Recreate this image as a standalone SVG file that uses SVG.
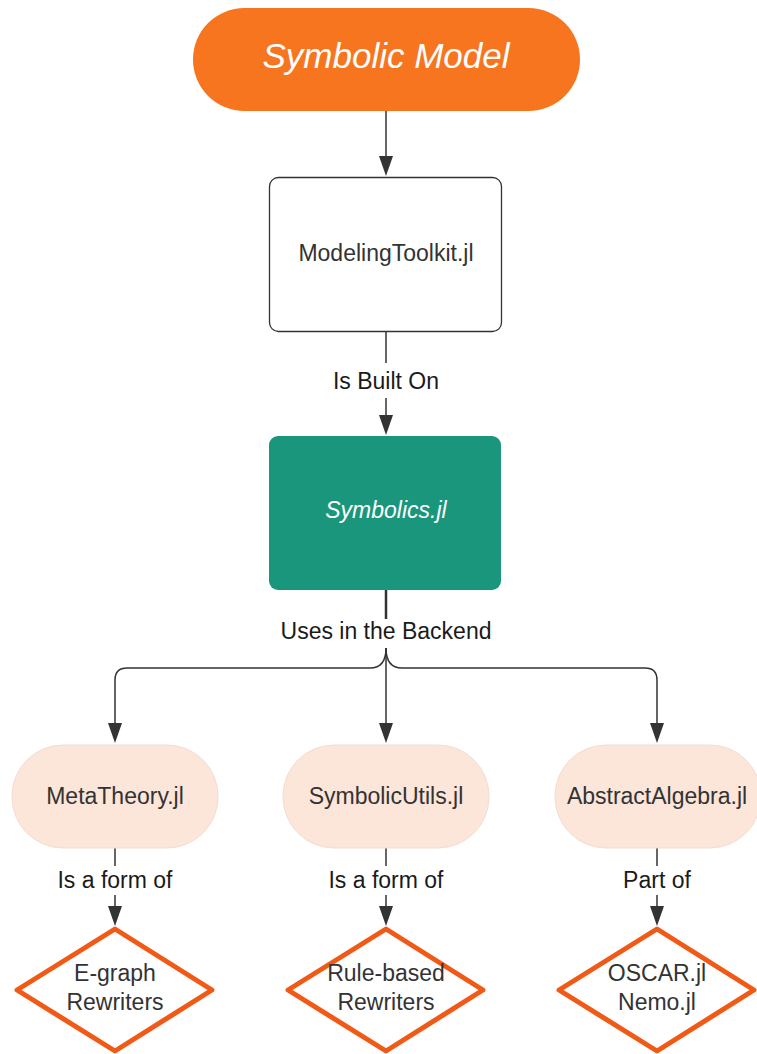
<svg xmlns="http://www.w3.org/2000/svg" width="757" height="1054" viewBox="0 0 757 1054">
<defs>
<style>
.t{font-family:"Liberation Sans",Arial,sans-serif;font-size:23px;fill:#333;text-anchor:middle}
.lbl{font-family:"Liberation Sans",Arial,sans-serif;font-size:23px;fill:#1a1a1a;text-anchor:middle}
.w{fill:#fff;font-style:italic}
.c{fill:none;stroke:#333;stroke-width:1.5}
.ah{fill:#333}
.peach{fill:#fce5d9;stroke:#f3ddd0;stroke-width:1}
.dia{fill:#fff;stroke:#f05a16;stroke-width:5;stroke-linejoin:round}
</style>
</defs>
<g id="connectors">
<line class="c" x1="386" y1="111" x2="386" y2="157"/>
<path class="ah" d="M379,156 L393,156 L386,176 Z"/>
<line class="c" x1="386" y1="331" x2="386" y2="363"/>
<line class="c" x1="386" y1="398" x2="386" y2="416"/>
<path class="ah" d="M379,415 L393,415 L386,435 Z"/>
<line class="c" x1="386" y1="590" x2="386" y2="619" style="stroke-width:2.5"/>
<path class="c" d="M386,648 L386,724"/>
<path class="ah" d="M379,723 L393,723 L386,743 Z"/>
<path class="c" d="M386,648 Q386,668 370,668 L127,668 Q115,668 115,680 L115,724"/>
<path class="ah" d="M108,723 L122,723 L115,743 Z"/>
<path class="c" d="M386,648 Q386,668 402,668 L645,668 Q657,668 657,680 L657,724"/>
<path class="ah" d="M650,723 L664,723 L657,743 Z"/>
<line class="c" x1="115" y1="848" x2="115" y2="866"/>
<line class="c" x1="115" y1="895" x2="115" y2="907"/>
<path class="ah" d="M108,906 L122,906 L115,926 Z"/>
<line class="c" x1="386" y1="848" x2="386" y2="866"/>
<line class="c" x1="386" y1="895" x2="386" y2="907"/>
<path class="ah" d="M379,906 L393,906 L386,926 Z"/>
<line class="c" x1="657" y1="848" x2="657" y2="866"/>
<line class="c" x1="657" y1="895" x2="657" y2="907"/>
<path class="ah" d="M650,906 L664,906 L657,926 Z"/>
<text class="lbl" x="386" y="389">Is Built On</text>
<text class="lbl" x="386" y="639">Uses in the Backend</text>
<text class="lbl" x="115" y="888">Is a form of</text>
<text class="lbl" x="386" y="888">Is a form of</text>
<text class="lbl" x="657" y="888">Part of</text>
</g>
<g id="symbolic-model">
<rect x="193" y="8" width="387" height="103" rx="51.5" fill="#f7751f"/>
<text class="t w" x="386" y="68" style="font-size:35px">Symbolic Model</text>
</g>
<g id="modelingtoolkit">
<rect x="269.5" y="177.5" width="232" height="154" rx="9" fill="#fff" stroke="#333" stroke-width="1.3"/>
<text class="t" x="386" y="261">ModelingToolkit.jl</text>
</g>
<g id="symbolics">
<rect x="269" y="436" width="232" height="154" rx="9" fill="#1a967d"/>
<text class="t w" x="386" y="518">Symbolics.jl</text>
</g>
<g id="metatheory">
<rect class="peach" x="12" y="745" width="206" height="103" rx="51"/>
<text class="t" x="115" y="804">MetaTheory.jl</text>
</g>
<g id="symbolicutils">
<rect class="peach" x="283" y="745" width="206" height="103" rx="51"/>
<text class="t" x="386" y="804">SymbolicUtils.jl</text>
</g>
<g id="abstractalgebra">
<rect class="peach" x="555" y="745" width="206" height="103" rx="51"/>
<text class="t" x="657" y="804">AbstractAlgebra.jl</text>
</g>
<g id="egraph">
<path class="dia" d="M115,929 L212,990 L115,1051 L17,990 Z"/>
<text class="t" x="115" y="981">E-graph</text>
<text class="t" x="115" y="1010">Rewriters</text>
</g>
<g id="rulebased">
<path class="dia" d="M386,929 L483,990 L386,1051 L288,990 Z"/>
<text class="t" x="386" y="981">Rule-based</text>
<text class="t" x="386" y="1010">Rewriters</text>
</g>
<g id="oscar">
<path class="dia" d="M657,929 L754,990 L657,1051 L559,990 Z"/>
<text class="t" x="657" y="981">OSCAR.jl</text>
<text class="t" x="657" y="1010">Nemo.jl</text>
</g>
</svg>
